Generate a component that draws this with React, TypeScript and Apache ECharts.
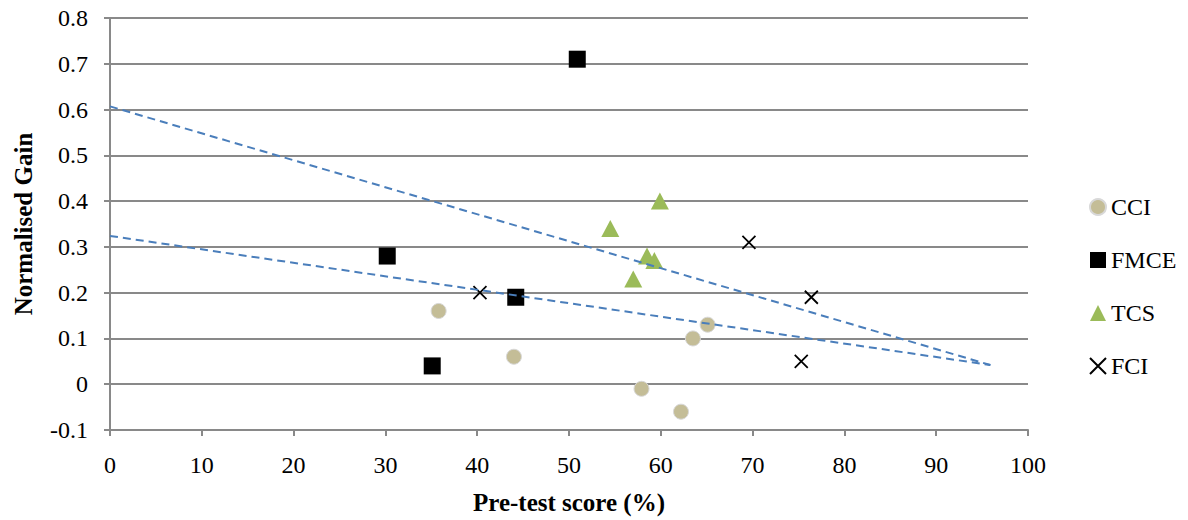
import React, { useEffect, useRef } from "react";
import * as echarts from "echarts";

const cciX = [35.8, 44.0, 57.9, 62.2, 63.5, 65.1];
const cciY = [0.16, 0.06, -0.01, -0.06, 0.10, 0.13];
const fmceX = [30.2, 35.1, 44.2, 50.9];
const fmceY = [0.28, 0.04, 0.19, 0.71];
const tcsX = [54.5, 57.0, 58.5, 59.3, 59.9];
const tcsY = [0.34, 0.23, 0.28, 0.27, 0.40];
const fciX = [40.3, 69.6, 75.3, 76.4];
const fciY = [0.20, 0.31, 0.05, 0.19];
const trend1X = [0, 95.9];
const trend1Y = [0.607, 0.042];
const trend2X = [0, 95.9];
const trend2Y = [0.324, 0.042];
const seriesNames = ["CCI", "FMCE", "TCS", "FCI"];
const xTitle = "Pre-test score (%)";
const yTitle = "Normalised Gain";

const zip = (xs: number[], ys: number[]) => xs.map((x, i) => [x, ys[i]]);
const FONT = "Liberation Serif";
const crossPath = "path://M0,0L10,10M10,0L0,10";

export default function App() {
  const ref = useRef<HTMLDivElement>(null);
  useEffect(() => {
    document.body.style.margin = "0";
    const chart = echarts.init(ref.current!, null, { renderer: "svg" });
    const gray = "#898989";
    chart.setOption({
      animation: false,
      textStyle: { fontFamily: FONT },
      grid: { left: 110, right: 160, top: 18, bottom: 83 },
      legend: {
        orient: "vertical",
        left: 1084,
        top: 190,
        itemGap: 29,
        itemWidth: 16,
        itemHeight: 16,
        data: seriesNames,
        textStyle: { fontFamily: FONT, fontStyle: "normal", fontSize: 24, color: "#000" },
      },
      xAxis: {
        type: "value",
        min: 0,
        max: 100,
        interval: 10,
        name: xTitle,
        nameLocation: "middle",
        nameGap: 60,
        nameTextStyle: { fontFamily: FONT, fontSize: 25, fontWeight: "bold", color: "#000" },
        axisLine: { onZero: false, lineStyle: { color: gray, width: 2 } },
        axisTick: { show: true, inside: false, length: 6, lineStyle: { color: gray, width: 2 } },
        axisLabel: { fontFamily: FONT, fontStyle: "normal", fontSize: 24, color: "#000", margin: 23 },
        splitLine: { show: false },
      },
      yAxis: {
        type: "value",
        min: -0.1,
        max: 0.8,
        interval: 0.1,
        name: yTitle,
        nameLocation: "middle",
        nameGap: 74,
        nameTextStyle: { fontFamily: FONT, fontSize: 25, fontWeight: "bold", color: "#000" },
        axisLine: { show: true, lineStyle: { color: gray, width: 2 } },
        axisTick: { show: true, inside: false, length: 6, lineStyle: { color: gray, width: 2 } },
        axisLabel: {
          fontFamily: FONT,
          fontStyle: "normal",
          fontSize: 24,
          color: "#000",
          margin: 22,
          formatter: (v: number) => (Math.abs(v) < 1e-9 ? "0" : String(parseFloat(v.toFixed(1)))),
        },
        splitLine: { show: true, lineStyle: { color: gray, width: 2 } },
      },
      series: [
        {
          name: "CCI",
          type: "scatter",
          symbol: "circle",
          symbolSize: 15,
          itemStyle: { color: "#C4BD97", borderColor: "#D8D8D8", borderWidth: 1, opacity: 1 },
          data: zip(cciX, cciY),
        },
        {
          name: "FMCE",
          type: "scatter",
          symbol: "rect",
          symbolSize: 17,
          itemStyle: { color: "#000000", opacity: 1 },
          data: zip(fmceX, fmceY),
        },
        {
          name: "TCS",
          type: "scatter",
          symbol: "triangle",
          symbolSize: [18, 17],
          itemStyle: { color: "#9BBB59", opacity: 1 },
          data: zip(tcsX, tcsY),
        },
        {
          name: "FCI",
          type: "scatter",
          symbol: crossPath,
          symbolSize: 13,
          itemStyle: { color: "rgba(0,0,0,0)", borderColor: "#000000", borderWidth: 1.8, opacity: 1 },
          data: zip(fciX, fciY),
        },
        {
          name: "trend1",
          type: "line",
          showSymbol: false,
          symbol: "none",
          silent: true,
          z: 5,
          lineStyle: { color: "#4A7EBB", width: 2, type: [8, 5] },
          data: zip(trend1X, trend1Y),
        },
        {
          name: "trend2",
          type: "line",
          showSymbol: false,
          symbol: "none",
          silent: true,
          z: 5,
          lineStyle: { color: "#4A7EBB", width: 2, type: [8, 5] },
          data: zip(trend2X, trend2Y),
        },
      ],
    });
    return () => chart.dispose();
  }, []);
  return (
    <div
      ref={ref}
      style={{ position: "absolute", left: 0, top: 0, width: 1188, height: 520 }}
    />
  );
}
